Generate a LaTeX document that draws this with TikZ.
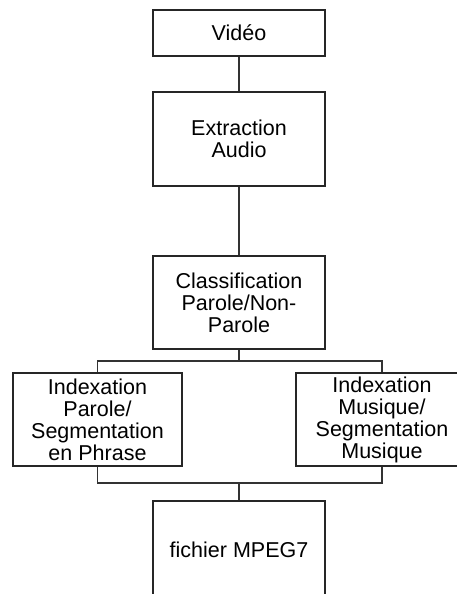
\documentclass[tikz,border=0pt]{standalone}
\usepackage{fontspec}
\setmainfont{Liberation Sans}
\usetikzlibrary{positioning}
\tikzset{
  etape/.style={draw=black!85, line width=1.1pt, align=center, inner sep=0pt,
    minimum width=172pt, font=\fontsize{21.5}{22}\selectfont},
  lien/.style={draw=black!80, line width=1.1pt}
}
\begin{document}
\begin{tikzpicture}[x=1pt,y=-1pt]
      \useasboundingbox (0,0) rectangle (457,594);
      \clip (0,0) rectangle (457,594);
      \node[etape, minimum height=46pt] (video) at (239,33) {Vidéo};
      \node[etape, minimum height=94pt] (extraction) at (239,139) {Extraction\\Audio};
      \node[etape, minimum height=93pt] (classif) at (239,302.5) {Classification\\Parole/Non-\\Parole};
      \node[etape, minimum width=169pt, minimum height=93pt] (parole) at (97.5,419.5) {Indexation\\Parole/\\Segmentation\\en Phrase};
      \node[etape, minimum height=93pt] (musique) at (382,419.5) {Indexation\\Musique/\\Segmentation\\Musique};
      \node[etape, minimum height=98pt] (mpeg) at (239,550) {fichier MPEG7};
      \coordinate (haut) at (239,361);
      \coordinate (bas) at (239,483);
      \draw[lien] (video) -- (extraction);
      \draw[lien] (extraction) -- (classif);
      \draw[lien] (classif) -- (haut);
      \draw[lien] (parole.north) |- (haut) -| (musique.north);
      \draw[lien] (parole.south) |- (bas) -| (musique.south);
      \draw[lien] (bas) -- (mpeg);
    \end{tikzpicture}
\end{document}
